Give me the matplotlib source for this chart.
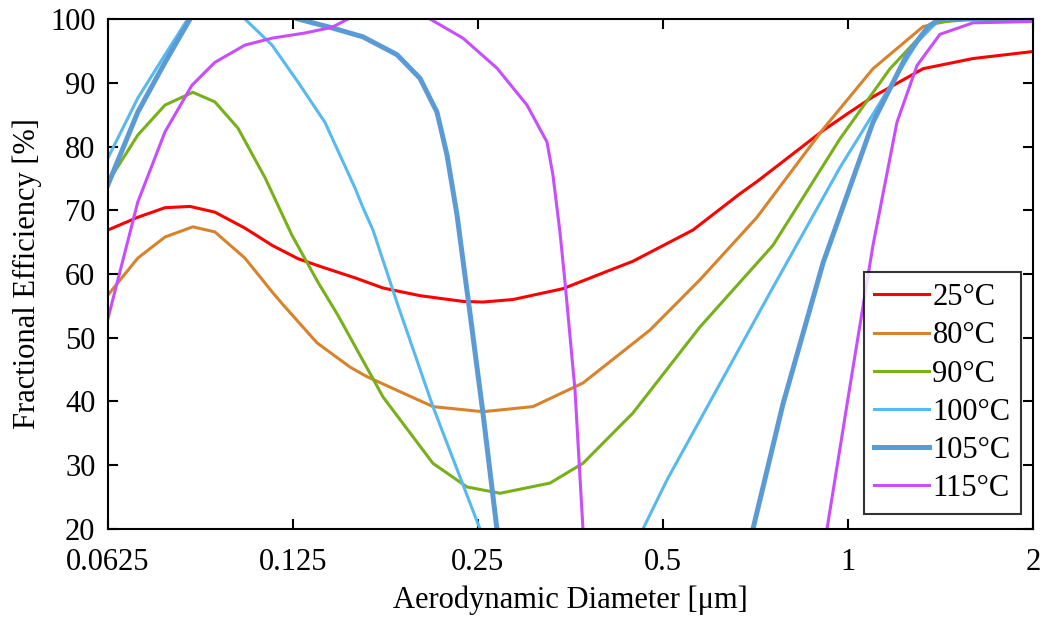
import matplotlib
matplotlib.use('Agg')
import matplotlib.pyplot as plt
import numpy as np

nan = np.nan

labels = ['25°C', '80°C', '90°C', '100°C', '105°C', '115°C']
colors = ['#FF0000', '#D8832B', '#77B01A', '#56B9F0', '#5B9BD5', '#C84DFF']
widths = [2.2, 2.2, 2.2, 2.2, 3.6, 2.2]

# aerodynamic diameter [um] and fractional efficiency [%]
# (nan = curve leaves the 20-100 % window)
d25 = [0.0625, 0.0699, 0.0774, 0.085, 0.0933, 0.1044, 0.1156, 0.1274, 0.1393, 0.1577, 0.1752,
       0.2012, 0.2363, 0.2547, 0.2851, 0.3438, 0.41, 0.4468, 0.5595, 0.6673, 0.7111, 0.8354,
       0.9106, 1.0, 1.0982, 1.3245, 1.5975, 2.0]
e25 = [66.9, 68.9, 70.4, 70.6, 69.7, 67.2, 64.5, 62.4, 61.1, 59.4, 57.8,
       56.6, 55.7, 55.6, 56.0, 57.7, 60.6, 62.0, 66.9, 72.6, 74.5, 79.7,
       82.5, 85.2, 87.8, 92.2, 93.8, 94.9]

d80 = [0.0625, 0.0699, 0.0774, 0.0859, 0.0933, 0.1044, 0.1156, 0.1204, 0.1368, 0.1548,
       0.1649, 0.2112, 0.2547, 0.3072, 0.3705, 0.4762, 0.5744, 0.7111, 0.9106, 1.0982, 1.3245,
       1.4656, 1.6, 2.0]
e80 = [56.7, 62.5, 65.8, 67.4, 66.6, 62.5, 57.2, 55.2, 49.2, 45.4,
       43.9, 39.2, 38.4, 39.2, 42.9, 51.2, 59.1, 68.9, 82.7, 92.2, 98.8,
       99.8, 100, 100]

d90 = [0.0625, 0.0699, 0.0774, 0.0859, 0.0933, 0.1017, 0.1126, 0.1245, 0.1373, 0.148, 0.1752,
       0.2112, 0.2399, 0.2715, 0.3274, 0.3705, 0.4468, 0.5744, 0.755, 0.9704, 1.1704, 1.375,
       1.6, 2.0]
e90 = [74.4, 81.8, 86.5, 88.5, 87.0, 82.9, 75.1, 66.1, 58.7, 53.5, 40.7,
       30.3, 26.6, 25.6, 27.2, 30.3, 38.2, 51.7, 64.5, 81.2, 92.2, 99.4,
       100, 100]

d100 = [0.0625, 0.0699, 0.0774, 0.0843, nan, 0.1044, 0.1156, 0.1274, 0.1409, 0.1577, 0.1625,
        0.1687, 0.1846, 0.2112, 0.2519, nan, 0.4639, 0.5076, 0.5744, 0.755, 0.9704, 1.1704,
        1.3, 1.4115, 2.0]
e100 = [78.2, 87.6, 94.4, 100, nan, 100, 95.9, 90.1, 83.8, 73.5, 70.4,
        66.9, 55.5, 39.2, 20, nan, 20, 27.7, 37.1, 57.9, 76.7, 89.4,
        96.5, 100, 100]

d105 = [0.0625, 0.0699, 0.0774, 0.085, nan, 0.1274, 0.1436, 0.1625, 0.1846, 0.2012, 0.2144,
        0.2226, 0.2311, 0.2381, 0.2426, 0.2547, 0.2684, nan, 0.7005, 0.7838, 0.9106, 1.0982,
        1.2473, 1.35, 1.4115, 2.0]
e105 = [74.0, 85.4, 93.2, 100, nan, 100, 98.7, 97.2, 94.4, 90.7, 85.4,
        78.7, 69.3, 59.8, 53.9, 38.2, 20, nan, 20, 39.6, 61.7, 83.8,
        94.4, 98.8, 100, 100]

d115 = [0.0625, 0.0699, 0.0774, 0.0856, 0.0933, 0.1044, 0.1156, 0.1307, 0.1447, 0.1536, nan,
        0.2089, 0.2363, 0.2684, 0.3004, 0.3238, 0.3311, 0.3399, 0.3464, 0.3596, 0.3705, nan,
        0.9244, 1.0075, 1.0982, 1.2014, 1.2951, 1.4115, 1.5975, 2.0]
e115 = [53.0, 71.3, 82.3, 89.6, 93.2, 95.9, 97.0, 97.8, 98.7, 100, nan,
        100, 97.0, 92.3, 86.5, 80.7, 75.5, 66.6, 58.7, 41.8, 20, nan,
        20, 42.4, 64.5, 83.8, 92.7, 97.6, 99.4, 99.6]

xs = [d25, d80, d90, d100, d105, d115]
ys = [e25, e80, e90, e100, e105, e115]

xticks = [0.0625, 0.125, 0.25, 0.5, 1, 2]
xticklabels = ['0.0625', '0.125', '0.25', '0.5', '1', '2']

plt.rcParams['font.family'] = ['Liberation Serif', 'DejaVu Serif']
plt.rcParams['font.size'] = 22

fig = plt.figure(figsize=(10.45, 6.19), dpi=100)
ax = fig.add_axes([0.1033, 0.1454, 0.8852, 0.8239])

for x, y, c, w, lab in zip(xs, ys, colors, widths, labels):
    ax.plot(x, y, color=c, lw=w, label=lab, solid_joinstyle='round')

ax.set_xscale('log', base=2)
ax.set_xlim(0.0625, 2)
ax.set_ylim(20, 100)
ax.set_xticks(xticks)
ax.set_xticklabels(xticklabels)
ax.minorticks_off()
ax.set_yticks(range(20, 101, 10))
ax.tick_params(direction='in', length=7, width=1.5, top=True, right=True)
ax.tick_params(axis='x', pad=14)
ax.tick_params(axis='y', pad=9)
for s in ax.spines.values():
    s.set_linewidth(1.5)

ax.set_xlabel('Aerodynamic Diameter [μm]', labelpad=6)
ax.set_ylabel('Fractional Efficiency [%]', labelpad=6)

leg = ax.legend(loc='lower right', bbox_to_anchor=(1.004, 0.0), frameon=True,
                fancybox=False, edgecolor='black', handlelength=1.8, handletextpad=0.1,
                labelspacing=0.3, borderaxespad=0.5, borderpad=0.35)
leg.get_frame().set_linewidth(1.5)

fig.savefig('out.png', dpi=100)
